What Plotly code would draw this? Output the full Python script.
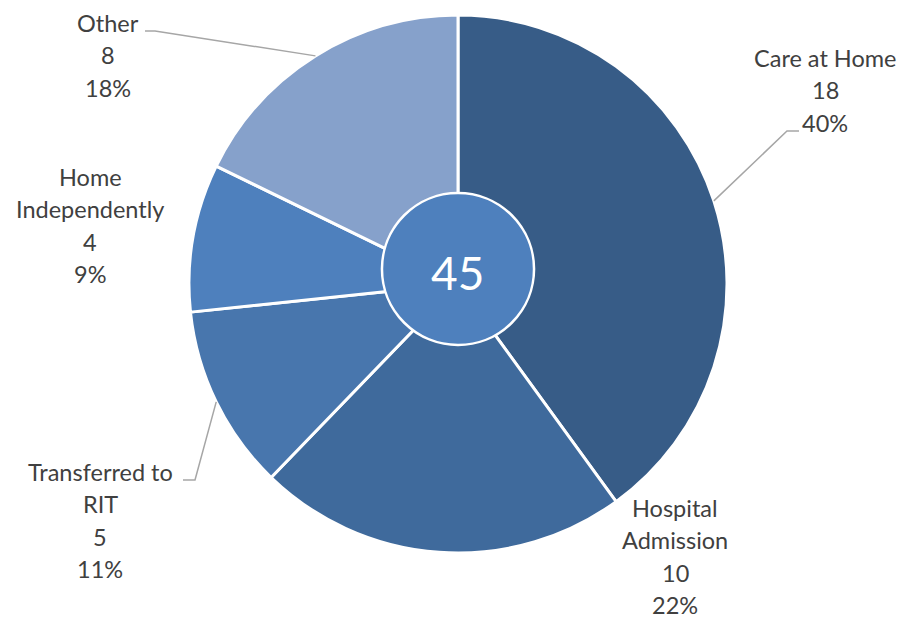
import math
import plotly.graph_objects as go

# ---- data ----
labels = ["Care at Home", "Hospital Admission", "Transferred to RIT", "Home Independently", "Other"]
values = [18, 10, 5, 4, 8]
label_lines = [["Care at Home"], ["Hospital", "Admission"], ["Transferred to", "RIT"],
               ["Home", "Independently"], ["Other"]]
colors = ["#375c87", "#3f6a9c", "#4876ad", "#4e80bd", "#86a1cb"]

W, H = 904, 618
total = sum(values)

# ---- layout geometry (pixels) ----
cx, cy, R = 458, 284, 269          # pie centre / radius
icx, icy, ir = 458, 269, 76        # centre disc

def px(x, y):
    return x / W, 1 - y / H

# label text layout: centre x, y of first line (pixels)
label_pos = [(825, 58), (675, 508), (100, 472), (90, 177), (108, 23)]
# leader lines: elbow point and end point (pixels) or None
leaders = [((787, 131), (799, 131)), None, ((195, 480), (183, 480)), None, ((155, 31), (145, 31))]
line_gap = 32.3

fig = go.Figure()
fig.add_trace(go.Pie(
    labels=labels, values=values, sort=False, direction="clockwise", rotation=0,
    marker=dict(colors=colors, line=dict(color="white", width=3)),
    textinfo="none", hoverinfo="label+value+percent", showlegend=False,
    domain=dict(x=[(cx - R) / W, (cx + R) / W], y=[1 - (cy + R) / H, 1 - (cy - R) / H]),
))
fig.add_trace(go.Pie(
    labels=["Total"], values=[total], sort=False,
    marker=dict(colors=["#4e80bd"], line=dict(color="white", width=2.5)),
    textinfo="none", hoverinfo="skip", showlegend=False,
    domain=dict(x=[(icx - ir) / W, (icx + ir) / W], y=[1 - (icy + ir) / H, 1 - (icy - ir) / H]),
))

annotations = []
shapes = []
cum = 0
for i, v in enumerate(values):
    mid = (cum + v / 2) / total * 2 * math.pi
    cum += v
    pct = round(v / total * 100)
    lines = label_lines[i] + [str(v), f"{pct}%"]
    lx, ly = label_pos[i]
    for j, t in enumerate(lines):
        x, y = px(lx, ly + j * line_gap)
        annotations.append(dict(x=x, y=y, xref="paper", yref="paper", text=t, showarrow=False,
                                xanchor="center", yanchor="middle",
                                font=dict(family="Lato", size=23.5, color="#404040")))
    if leaders[i]:
        sx = cx + R * math.sin(mid)
        sy = cy - R * math.cos(mid)
        (ex, ey), (fx, fy) = leaders[i]
        path_pts = [px(sx, sy), px(ex, ey), px(fx, fy)]
        path = "M {} {} L {} {} L {} {}".format(*[c for p in path_pts for c in p])
        shapes.append(dict(type="path", xref="paper", yref="paper", path=path,
                           line=dict(color="#a6a6a6", width=1.5)))

x0, y0 = px(icx, icy + 3)
annotations.append(dict(x=x0, y=y0, xref="paper", yref="paper", text=str(total), showarrow=False,
                        xanchor="center", yanchor="middle",
                        font=dict(family="Lato", size=46, color="white")))

fig.update_layout(width=W, height=H, margin=dict(l=0, r=0, t=0, b=0),
                  paper_bgcolor="white", plot_bgcolor="white",
                  annotations=annotations, shapes=shapes)
fig.write_html("out.html")
